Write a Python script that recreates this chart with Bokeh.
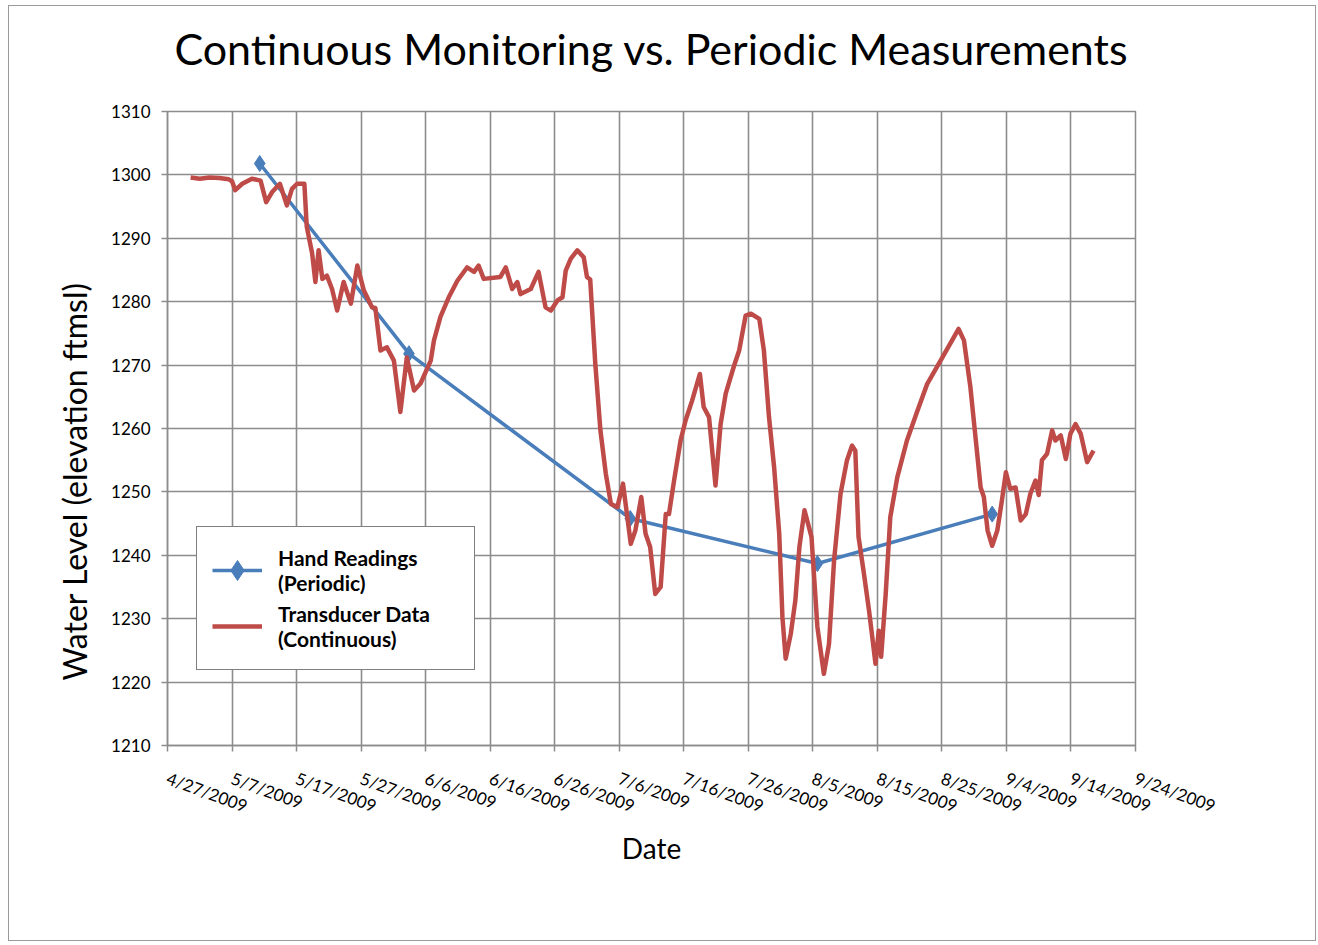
import pandas as pd
from bokeh.plotting import figure
from bokeh.models import (FixedTicker, CustomJSTickFormatter, Range1d, Legend,
                          LegendItem, ColumnDataSource, Title)
from bokeh.embed import file_html
from bokeh.resources import INLINE

# ---------------- data ----------------
hand_dates = ["2009-05-11 07:00", "2009-06-03 10:00", "2009-07-07 17:00",
              "2009-08-05 17:00", "2009-09-01 19:00"]
hand_levels = [1301.8, 1271.8, 1245.8, 1238.7, 1246.5]

trans_dates = [
    "2009-04-30 14:00", "2009-05-02 00:00", "2009-05-03 12:00", "2009-05-05 00:00",
    "2009-05-06 12:00", "2009-05-07 00:00", "2009-05-07 12:00", "2009-05-08 14:00",
    "2009-05-10 02:00", "2009-05-11 10:00", "2009-05-12 07:00", "2009-05-13 05:00",
    "2009-05-14 10:00", "2009-05-15 12:00", "2009-05-16 07:00", "2009-05-17 02:00",
    "2009-05-18 05:00", "2009-05-18 14:00", "2009-05-19 10:00", "2009-05-19 22:00",
    "2009-05-20 10:00", "2009-05-21 00:00", "2009-05-21 17:00", "2009-05-22 12:00",
    "2009-05-23 07:00", "2009-05-24 07:00", "2009-05-25 10:00", "2009-05-26 10:00",
    "2009-05-27 10:00", "2009-05-28 17:00", "2009-05-29 05:00", "2009-05-30 00:00",
    "2009-05-31 00:00", "2009-06-01 02:00", "2009-06-02 02:00", "2009-06-03 02:00",
    "2009-06-04 05:00", "2009-06-05 05:00", "2009-06-06 19:00", "2009-06-07 07:00",
    "2009-06-08 07:00", "2009-06-09 14:00", "2009-06-10 22:00", "2009-06-12 10:00",
    "2009-06-13 12:00", "2009-06-14 05:00", "2009-06-15 00:00", "2009-06-17 14:00",
    "2009-06-18 10:00", "2009-06-19 10:00", "2009-06-20 05:00", "2009-06-20 17:00",
    "2009-06-22 07:00", "2009-06-23 12:00", "2009-06-24 14:00", "2009-06-25 10:00",
    "2009-06-26 10:00", "2009-06-27 05:00", "2009-06-27 17:00", "2009-06-28 12:00",
    "2009-06-29 12:00", "2009-06-30 12:00", "2009-07-01 00:00", "2009-07-01 12:00",
    "2009-07-02 07:00", "2009-07-03 02:00", "2009-07-03 22:00", "2009-07-04 17:00",
    "2009-07-05 17:00", "2009-07-06 14:00", "2009-07-07 19:00", "2009-07-08 12:00",
    "2009-07-09 10:00", "2009-07-10 02:00", "2009-07-10 19:00", "2009-07-11 14:00",
    "2009-07-12 10:00", "2009-07-13 05:00", "2009-07-13 17:00", "2009-07-14 12:00",
    "2009-07-15 12:00", "2009-07-16 07:00", "2009-07-17 07:00", "2009-07-18 12:00",
    "2009-07-19 02:00", "2009-07-19 22:00", "2009-07-20 22:00", "2009-07-21 17:00",
    "2009-07-22 12:00", "2009-07-23 19:00", "2009-07-24 14:00", "2009-07-25 14:00",
    "2009-07-26 10:00", "2009-07-27 17:00", "2009-07-28 10:00", "2009-07-29 05:00",
    "2009-07-30 00:00", "2009-07-30 19:00", "2009-07-31 07:00", "2009-07-31 19:00",
    "2009-08-01 14:00", "2009-08-02 07:00", "2009-08-02 22:00", "2009-08-03 17:00",
    "2009-08-04 19:00", "2009-08-05 17:00", "2009-08-06 17:00", "2009-08-07 12:00",
    "2009-08-08 07:00", "2009-08-09 07:00", "2009-08-10 07:00", "2009-08-11 02:00",
    "2009-08-11 14:00", "2009-08-12 02:00", "2009-08-12 22:00", "2009-08-13 17:00",
    "2009-08-14 05:00", "2009-08-14 17:00", "2009-08-15 05:00", "2009-08-15 14:00",
    "2009-08-16 07:00", "2009-08-17 00:00", "2009-08-18 02:00", "2009-08-19 14:00",
    "2009-08-21 05:00", "2009-08-22 17:00", "2009-08-24 19:00", "2009-08-26 07:00",
    "2009-08-27 14:00", "2009-08-28 10:00", "2009-08-29 10:00", "2009-08-30 05:00",
    "2009-08-31 00:00", "2009-08-31 12:00", "2009-09-01 02:00", "2009-09-01 19:00",
    "2009-09-02 14:00", "2009-09-03 07:00", "2009-09-03 22:00", "2009-09-04 14:00",
    "2009-09-05 10:00", "2009-09-06 05:00", "2009-09-07 00:00", "2009-09-07 17:00",
    "2009-09-08 12:00", "2009-09-09 00:00", "2009-09-09 12:00", "2009-09-10 07:00",
    "2009-09-11 02:00", "2009-09-11 14:00", "2009-09-12 10:00", "2009-09-13 05:00",
    "2009-09-13 22:00", "2009-09-14 17:00", "2009-09-15 12:00", "2009-09-16 12:00",
    "2009-09-17 12:00",
]
trans_levels = [
    1299.6, 1299.4, 1299.6, 1299.5, 1299.3, 1299.0, 1297.6, 1298.6,
    1299.4, 1299.1, 1295.7, 1297.3, 1298.6, 1295.2, 1297.8, 1298.6,
    1298.6, 1291.8, 1287.6, 1283.1, 1288.1, 1283.6, 1284.1, 1282.0,
    1278.6, 1283.1, 1279.7, 1285.7, 1281.8, 1279.1, 1279.0, 1272.3,
    1272.8, 1270.7, 1262.6, 1271.2, 1266.0, 1267.1, 1270.7, 1273.9,
    1277.6, 1280.7, 1283.3, 1285.4, 1284.7, 1285.7, 1283.6, 1283.9,
    1285.4, 1282.0, 1283.1, 1281.2, 1282.0, 1284.7, 1279.1, 1278.6,
    1280.2, 1280.7, 1284.9, 1286.8, 1288.1, 1287.0, 1283.9, 1283.5,
    1270.2, 1259.7, 1252.9, 1248.1, 1247.6, 1251.3, 1241.8, 1243.9,
    1249.2, 1243.4, 1241.3, 1233.9, 1235.0, 1246.5, 1246.5, 1251.8,
    1258.1, 1261.3, 1264.4, 1268.6, 1263.4, 1261.8, 1251.0, 1260.7,
    1265.5, 1269.9, 1272.3, 1277.8, 1278.1, 1277.3, 1272.3, 1261.8,
    1253.9, 1243.4, 1230.2, 1223.7, 1227.6, 1232.9, 1241.3, 1247.1,
    1242.9, 1228.7, 1221.3, 1226.0, 1239.2, 1249.7, 1255.0, 1257.3,
    1256.5, 1242.9, 1237.1, 1231.3, 1227.1, 1222.9, 1228.1, 1224.0,
    1233.9, 1246.0, 1252.3, 1258.1, 1262.8, 1267.0, 1270.7, 1273.4,
    1275.7, 1273.9, 1266.5, 1258.6, 1250.7, 1249.2, 1243.9, 1241.5,
    1243.9, 1248.6, 1253.1, 1250.5, 1250.7, 1245.5, 1246.5, 1249.7,
    1251.8, 1249.5, 1255.0, 1256.0, 1259.7, 1258.1, 1258.9, 1255.2,
    1259.2, 1260.7, 1259.2, 1254.7, 1256.5,
]

x_tick_dates = ["2009-04-27", "2009-05-07", "2009-05-17", "2009-05-27", "2009-06-06",
                "2009-06-16", "2009-06-26", "2009-07-06", "2009-07-16", "2009-07-26",
                "2009-08-05", "2009-08-15", "2009-08-25", "2009-09-04", "2009-09-14",
                "2009-09-24"]
y_ticks = [1210, 1220, 1230, 1240, 1250, 1260, 1270, 1280, 1290, 1300, 1310]

# ---------------- figure ----------------
FONT = "Lato"
GRID = "#8c8c8c"
W, H = 1308, 936


def ms(s):
    return pd.Timestamp(s).value / 1e6


x_ticks = [ms(d) for d in x_tick_dates]

p = figure(width=W, height=H, x_axis_type="datetime",
           output_backend="svg", toolbar_location=None,
           x_range=Range1d(x_ticks[0], x_ticks[-1]),
           y_range=Range1d(y_ticks[0], y_ticks[-1]),
           min_border_left=158, min_border_right=182,
           min_border_top=105, min_border_bottom=197)
p.styles = {"border": "1px solid #9a9a9a", "margin": "5px 0px 0px 8px"}

# main chart title (outermost in the top panel)
p.title.text = "Continuous Monitoring vs. Periodic Measurements"
p.title.text_font = FONT
p.title.text_font_size = "43px"
p.title.text_font_style = "normal"
p.title.align = "center"
p.title.text_color = "black"
p.title.vertical_align = "top"
p.title.standoff = 20

# small empty spacer between the title and the plot area
p.add_layout(Title(text=" ", text_font_size="1px", standoff=23), "above")

hand_src = ColumnDataSource(dict(x=pd.to_datetime(hand_dates), y=hand_levels))
trans_src = ColumnDataSource(dict(x=pd.to_datetime(trans_dates), y=trans_levels))

BLUE = "#4a7ebb"
RED = "#be4b48"
r_hand_line = p.line("x", "y", source=hand_src, line_color=BLUE, line_width=3.5)
r_hand_mark = p.scatter("x", "y", source=hand_src, marker="diamond", size=16,
                        fill_color=BLUE, line_color=BLUE)
r_trans = p.line("x", "y", source=trans_src, line_color=RED, line_width=4.5,
                 line_join="round")

# axes
p.xaxis.ticker = FixedTicker(ticks=x_ticks)
p.xaxis.formatter = CustomJSTickFormatter(code="""
const d = new Date(tick);
return (d.getUTCMonth()+1) + '/' + d.getUTCDate() + '/' + d.getUTCFullYear();
""")
p.xaxis.major_label_orientation = -0.35
p.yaxis.ticker = FixedTicker(ticks=y_ticks)

for ax in (p.xaxis[0], p.yaxis[0]):
    ax.axis_line_color = GRID
    ax.axis_line_width = 1.5
    ax.major_tick_line_color = GRID
    ax.major_tick_line_width = 1.5
    ax.major_tick_out = 6
    ax.major_tick_in = 0
    ax.minor_tick_line_color = None
    ax.major_label_text_font = FONT
    ax.major_label_text_font_size = "17px"
    ax.major_label_text_color = "black"
    ax.axis_label_text_font = FONT
    ax.axis_label_text_font_style = "normal"
    ax.axis_label_text_color = "black"

p.xaxis.major_label_standoff = 26
p.xaxis.axis_label = "Date"
p.xaxis.axis_label_text_font_size = "28px"
p.xaxis.axis_label_standoff = 2
p.yaxis.major_label_standoff = 11

# y-axis title, placed lower than the frame centre as in the original
ytitle = Title(text="Water Level (elevation ftmsl)", align="left", offset=65,
               text_font=FONT, text_font_size="32px", text_font_style="normal",
               text_color="black", standoff=30, vertical_align="bottom")
p.add_layout(ytitle, "left")

p.xgrid.ticker = FixedTicker(ticks=x_ticks)
p.ygrid.ticker = FixedTicker(ticks=y_ticks)
for g in (p.xgrid[0], p.ygrid[0]):
    g.grid_line_color = GRID
    g.grid_line_width = 1.6

p.outline_line_color = GRID
p.outline_line_width = 1.5
p.background_fill_color = "white"
p.border_fill_color = "white"

legend = Legend(items=[
    LegendItem(label="Hand Readings\n(Periodic)", renderers=[r_hand_line, r_hand_mark]),
    LegendItem(label="Transducer Data\n(Continuous)", renderers=[r_trans]),
], location=(29, 75))
legend.label_text_font = FONT
legend.label_text_font_size = "21px"
legend.label_text_font_style = "bold"
legend.label_text_color = "black"
legend.border_line_color = "black"
legend.border_line_width = 1.5
legend.background_fill_color = "white"
legend.background_fill_alpha = 1.0
legend.padding = 15
legend.margin = 0
legend.glyph_width = 50
legend.glyph_height = 56
legend.label_height = 56
legend.label_standoff = 16
legend.label_width = 181
legend.spacing = 0
p.add_layout(legend)

open("out.html", "w").write(file_html(p, INLINE))
